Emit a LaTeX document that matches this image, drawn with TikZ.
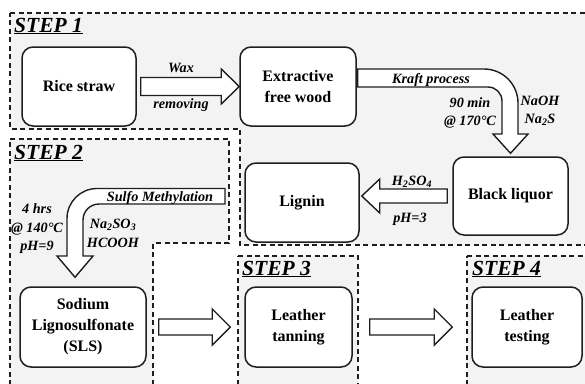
\documentclass[tikz,border=0pt]{standalone}
\usepackage{fontspec}
\setmainfont{Liberation Serif}
\usetikzlibrary{calc}
\definecolor{regionfill}{RGB}{243,243,243}
\definecolor{ink}{RGB}{30,30,30}
\newcommand{\stepul}[1]{\underline{#1}}
\begin{document}
\begin{tikzpicture}[x=1pt,y=-1pt,
  region/.style={fill=regionfill,draw=ink,line width=1.2pt,dash pattern=on 5pt off 3.5pt},
  procbox/.style={draw=ink,fill=white,line width=1.5pt,rounded corners=11pt,inner sep=0pt,align=center,font=\bfseries\fontsize{16}{21}\selectfont},
  barrow/.style={draw=ink,fill=white,line width=1.4pt,line join=miter},
  lbl/.style={font=\bfseries\itshape\fontsize{14.2}{16}\selectfont,inner sep=0pt,anchor=base},
  steplbl/.style={font=\bfseries\itshape\fontsize{21.5}{24}\selectfont,inner sep=0pt,anchor=base west}]
\clip (0,0) rectangle (585,383);
% regions
\path[region] (10,13) -- (600,13) -- (600,245) -- (240,245) -- (240,129) -- (10,129) -- cycle;
\path[region] (10,139) -- (229,139) -- (229,243) -- (153,243) -- (153,400) -- (10,400) -- cycle;
\path[region] (238,256) -- (358,256) -- (358,400) -- (238,400) -- cycle;
\path[region] (467,256) -- (600,256) -- (600,400) -- (467,400) -- cycle;
% step labels
\node[steplbl] (s1) at (14,32) {\stepul{STEP 1}};
\node[steplbl] (s2) at (14,159) {\stepul{STEP 2}};
\node[steplbl] (s3) at (242,275) {\stepul{STEP 3}};
\node[steplbl] (s4) at (472,275) {\stepul{STEP 4}};
% boxes
\node[procbox,minimum width=114pt,minimum height=79pt] (rice) at (79,86.5) {Rice straw};
\node[procbox,minimum width=116pt,minimum height=79pt] (ext) at (298,86.5) {Extractive\\free wood};
\node[procbox,minimum width=115pt,minimum height=78pt] (black) at (510.5,196) {Black liquor};
\node[procbox,minimum width=114pt,minimum height=79pt] (lignin) at (302,202.5) {Lignin};
\node[procbox,minimum width=126pt,minimum height=80pt] (sls) at (83,327) {Sodium\\Lignosulfonate\\(SLS)};
\node[procbox,minimum width=107pt,minimum height=80pt] (tan) at (298.5,327) {Leather\\tanning};
\node[procbox,minimum width=110pt,minimum height=80pt] (test) at (527,327) {Leather\\testing};
% arrow rice -> ext
\draw[barrow] ($(rice.east)+(4,-9)$) -- ($(ext.west)+(-18,-9)$) -- ($(ext.west)+(-18,-17.5)$) -- (ext.west)
  -- ($(ext.west)+(-18,17.5)$) -- ($(ext.west)+(-18,9)$) -- ($(rice.east)+(4,9)$) -- cycle;
% kraft arrow ext -> black
\draw[barrow] ($(ext.east)+(1,-17.5)$) -- (484,69) arc[start angle=-90,end angle=0,radius=34]
  -- (518,134) -- (528,134) -- ($(black.north)+(0,-3)$) -- (493,134) -- (502,134) -- (502,101)
  arc[start angle=0,end angle=-90,radius=14] -- ($(ext.east)+(1,0.5)$) -- cycle;
% black -> lignin
\draw[barrow] ($(black.west)+(-5,-7)$) -- ($(lignin.east|-black.west)+(20,-7)$) -- ($(lignin.east|-black.west)+(20,-17)$)
  -- ($(lignin.east|-black.west)+(2,0)$) -- ($(lignin.east|-black.west)+(20,17)$) -- ($(lignin.east|-black.west)+(20,7)$)
  -- ($(black.west)+(-5,7)$) -- cycle;
% sulfo methylation arrow -> sls
\coordinate (sulfostart) at (225,188.5);
\draw[barrow] (sulfostart) -- (97,188.5) arc[start angle=-90,end angle=-180,radius=30]
  -- (67,256) -- (57,256) -- ($(sls.north)+(-8,-9)$) -- (93,256) -- (83,256) -- (83,220)
  arc[start angle=180,end angle=270,radius=16] -- (225,204) -- cycle;
% sls -> tan
\draw[barrow] ($(sls.east)+(12,-8)$) -- ($(tan.west)+(-32,-8)$) -- ($(tan.west)+(-32,-18)$) -- ($(tan.west)+(-14,0)$)
  -- ($(tan.west)+(-32,18)$) -- ($(tan.west)+(-32,8)$) -- ($(sls.east)+(12,8)$) -- cycle;
% tan -> test
\draw[barrow] ($(tan.east)+(17,-8)$) -- ($(test.west)+(-37,-8)$) -- ($(test.west)+(-37,-18)$) -- ($(test.west)+(-19,0)$)
  -- ($(test.west)+(-37,18)$) -- ($(test.west)+(-37,8)$) -- ($(tan.east)+(17,8)$) -- cycle;
% labels
\node[lbl] (wax) at (181,72) {Wax};
\node[lbl] (rem) at (181,108) {removing};
\node[lbl] (kraft) at (431,83) {Kraft process};
\node[lbl] (t90) at (470,107) {90 min};
\node[lbl] (t170) at (470,125) {@ 170°C};
\node[lbl] (naoh) at (540,105) {NaOH};
\node[lbl] (nas) at (540,123) {Na\textsubscript{2}S};
\node[lbl] (hso) at (412,185) {H\textsubscript{2}SO\textsubscript{4}};
\node[lbl] (ph3) at (410,222) {pH=3};
\node[lbl] (sulfo) at (160,201) {Sulfo Methylation};
\node[lbl] (hrs) at (37,213) {4 hrs};
\node[lbl] (t140) at (37,232) {@ 140°C};
\node[lbl] (ph9) at (37,250) {pH=9};
\node[lbl] (naso) at (113,228) {Na\textsubscript{2}SO\textsubscript{3}};
\node[lbl] (hcooh) at (113,247) {HCOOH};
\end{tikzpicture}
\end{document}
